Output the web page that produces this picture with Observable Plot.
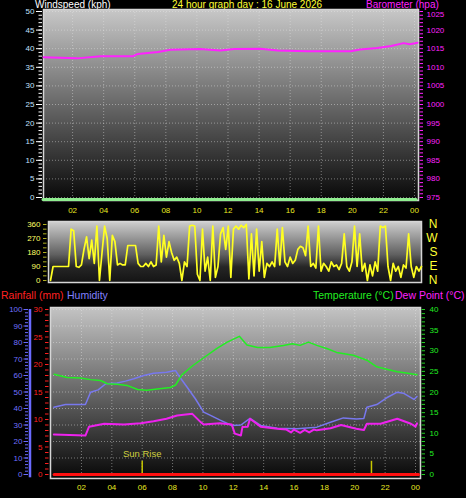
<!DOCTYPE html>
<html><head><meta charset="utf-8">
<script src="https://cdn.jsdelivr.net/npm/d3@7"></script>
<script src="https://cdn.jsdelivr.net/npm/@observablehq/plot@0.6"></script>
<style>
html,body{margin:0;padding:0;background:#000;width:466px;height:498px;overflow:hidden;font-family:"Liberation Sans",Arial,sans-serif;}
.panel{position:absolute;left:0;}
.lbl{position:absolute;font-size:10.5px;white-space:nowrap;line-height:1;}
.top{font-size:10px;line-height:9px;top:0;}
</style></head><body>
<div class="lbl top" style="left:35px;color:#ffffff">Windspeed (kph)</div>
<div class="lbl top" style="left:172px;color:#ffff33">24 hour graph day : 16 June 2026</div>
<div class="lbl top" style="left:366px;color:#ff22ff">Barometer (hpa)</div>
<div class="lbl" style="left:1px;top:290px;color:#ff2020">Rainfall (mm)</div>
<div class="lbl" style="left:67px;top:290px;color:#8080ff">Humidity</div>
<div class="lbl" style="left:313px;top:290px;color:#22ee22">Temperature (°C)</div>
<div class="lbl" style="left:395px;top:290px;color:#ff22ff">Dew Point (°C)</div>
<div id="p1" class="panel" style="top:0"></div>
<div id="p2" class="panel" style="top:215px"></div>
<div id="p3" class="panel" style="top:300px"></div>
<script>
// ---------- data ----------
const hourTicks = [2, 4, 6, 8, 10, 12, 14, 16, 18, 20, 22, 24];
const windTicks = [0, 5, 10, 15, 20, 25, 30, 35, 40, 45, 50];
const baroTicks = [975, 980, 985, 990, 995, 1000, 1005, 1010, 1015, 1020, 1025];
const dirTicks = [0, 90, 180, 270, 360];
const compassLetters = ["N", "E", "S", "W", "N"];
const humTicks = [0, 10, 20, 30, 40, 50, 60, 70, 80, 90, 100];
const rainTicks = [0, 5, 10, 15, 20, 25, 30];
const tempTicks = [0, 5, 10, 15, 20, 25, 30, 35, 40];

const windHours = [0.1, 24.1];
const windSpeeds = [0, 0];

const baroHours = [0.13, 2.3, 3.8, 5.9, 6.2, 7.5, 8.3, 10.2, 11.5, 12.4, 14.1, 15.2, 17.1, 19.9, 20.5, 21.6, 22.5, 23.3, 23.7, 24.2];
const baroValues = [1012.7, 1012.4, 1013.0, 1013.0, 1013.6, 1014.1, 1014.7, 1014.9, 1014.5, 1014.9, 1015.0, 1014.5, 1014.3, 1014.3, 1014.8, 1015.2, 1015.7, 1016.5, 1016.2, 1016.6];

const dirValues = [
  0, 90, 90, 90, 90, 90,
  90, 90, 330, 320, 90, 85,
  100, 200, 280, 140, 260, 110,
  350, 0, 180, 350, 270, 0,
  290, 250, 100, 110, 100, 100,
  225, 225, 225, 225, 110, 90,
  90, 110, 90, 120, 90, 100,
  350, 120, 290, 150, 250, 180,
  130, 150, 110, 0, 120, 90,
  350, 355, 350, 40, 0, 330,
  60, 150, 0, 350, 20, 90,
  300, 340, 200, 350, 20, 330,
  350, 330, 355, 340, 360, 10,
  300, 30, 330, 60, 250, 20,
  110, 90, 120, 90, 330, 100,
  340, 120, 90, 150, 110, 130,
  200, 220, 210, 160, 350, 90,
  110, 80, 350, 60, 110, 90,
  60, 120, 90, 100, 70, 110,
  300, 90, 60, 120, 350, 90,
  300, 60, 110, 0, 100, 30,
  120, 60, 350, 340, 350, 90,
  0, 110, 60, 90, 20, 100,
  80, 300, 90, 20, 90, 60,
  90
];

const tempHours = [0.2, 1.06, 1.93, 2.6, 3.25, 3.7, 4.35, 5.0, 5.7, 6.3, 7.0, 7.85, 8.2, 8.6, 9.3, 10.05, 10.9, 11.6, 12.4, 12.9, 13.6, 14.4, 15.3, 15.9, 16.4, 16.95, 17.5, 18.2, 18.8, 19.9, 20.8, 21.45, 22.1, 22.8, 23.4, 24.1];
const tempValues = [24.3, 23.5, 23.4, 23.0, 22.8, 22.0, 21.9, 21.6, 20.6, 20.4, 20.7, 21.1, 21.7, 24.1, 26.3, 28.3, 30.5, 32.1, 33.5, 31.4, 30.8, 30.8, 31.3, 31.7, 31.3, 32.1, 31.3, 30.5, 29.6, 28.9, 27.7, 26.1, 25.5, 24.9, 24.6, 24.2];

const humHours = [0.18, 0.95, 2.26, 2.6, 3.1, 3.6, 4.35, 4.9, 5.45, 6.1, 6.75, 7.6, 8.2, 8.4, 8.95, 9.5, 10.05, 10.5, 11.1, 11.9, 12.5, 13.1, 13.8, 14.9, 16.2, 17.5, 18.4, 19.25, 20.1, 20.6, 20.8, 21.45, 22.1, 22.8, 23.2, 23.9, 24.1];
const humValues = [40.8, 42.4, 42.4, 49.9, 51.3, 55, 55.4, 56.6, 58, 60, 61.4, 62, 63, 60, 53, 45.9, 37.8, 35.8, 33.1, 29.7, 30, 34, 29.7, 28, 27.7, 28.7, 31.7, 34.3, 33.7, 34, 40.8, 42.4, 46.5, 49.9, 49.3, 45.5, 47.3];

const dewHours = [0.18, 2.26, 2.5, 3.5, 4.8, 5.9, 6.75, 7.6, 8.3, 9.3, 9.85, 10.05, 11.1, 11.9, 12.1, 12.5, 12.6, 12.95, 13.1, 13.8, 14.9, 15.5, 15.8, 16.0, 16.4, 16.7, 17.0, 17.3, 17.5, 18.4, 19.1, 20.1, 20.6, 20.8, 21.7, 22.8, 23.7, 24.0, 24.1];
const dewValues = [9.7, 9.45, 11.6, 12.3, 12.1, 12.4, 12.9, 13.5, 14.3, 14.7, 12.7, 12.1, 12.4, 12.1, 9.9, 9.45, 11.5, 11.6, 13.5, 11.6, 11.1, 10.9, 10.2, 10.9, 10.1, 10.8, 10.2, 10.9, 10.7, 11.2, 12.0, 11.1, 10.8, 12.3, 12.3, 13.5, 12.3, 11.6, 12.4];

const rainHours = [0.2, 24.2];
const rainValues = [0, 0];

const sunHours = [6.0, 21.1];
const sunLabels = ["Sun Rise", ""];

// ---------- helpers ----------
const FONT = '"Liberation Sans", Arial, sans-serif';
const hourLabel = d => String(d % 24).padStart(2, "0");
const zip = (xs, ys) => xs.map((h, i) => ({h, v: ys[i]}));
const TICK_FS = 8;

function bg(id, stops) {
  return (index, scales, values, dim) => {
    const g = d3.create("svg:g");
    const lg = g.append("defs").append("linearGradient").attr("id", id)
      .attr("x1", 0).attr("y1", 0).attr("x2", 0).attr("y2", 1);
    for (const [o, c] of stops) lg.append("stop").attr("offset", o).attr("stop-color", c);
    g.append("rect").attr("x", dim.marginLeft).attr("y", dim.marginTop)
      .attr("width", dim.width - dim.marginLeft - dim.marginRight)
      .attr("height", dim.height - dim.marginTop - dim.marginBottom)
      .attr("fill", `url(#${id})`);
    return g.node();
  };
}
const grid = {stroke: "#e6e6e6", strokeOpacity: 0.45, strokeDasharray: "1,2"};

// ---------- panel 1 : windspeed / barometer ----------
{
  const xr = [41, 414];
  const px = p => (p - xr[0]) * 24 / (xr[1] - xr[0]);
  const baroTop = baroTicks[baroTicks.length - 1];
  const chart = Plot.plot({
    width: 466, height: 215,
    marginLeft: 43, marginRight: 48, marginTop: 9, marginBottom: 15,
    style: {background: "none", overflow: "visible", fontFamily: FONT},
    x: {domain: [0, 24], range: xr, axis: null},
    y: {domain: [0, 50], range: [197, 11], axis: null},
    marks: [
      bg("g1", [["0%", "#c8c8c8"], ["100%", "#080808"]]),
      Plot.ruleY(windTicks, {y: d => d, ...grid}),
      Plot.ruleX(hourTicks, {x: d => d, ...grid}),
      Plot.frame({stroke: "#d6d6d6", strokeWidth: 1.5}),
      Plot.ruleY(d3.range(0, 51, 1), {y: d => d, x1: px(38.5), x2: px(42), stroke: "#ffffff", strokeWidth: 1}),
      Plot.ruleY(windTicks, {y: d => d, x1: px(36), x2: px(42), stroke: "#ffffff", strokeWidth: 1}),
      Plot.ruleY(d3.range(0, 51, 1), {y: d => d, x1: px(419.5), x2: px(423), stroke: "#ff22ff", strokeWidth: 1}),
      Plot.text(windTicks, {y: d => d, text: d => String(d), frameAnchor: "left", dx: -9, textAnchor: "end", fill: "#c0e0ff", fontSize: TICK_FS}),
      Plot.text(baroTicks.filter(d => d !== baroTop), {y: d => d - 975, text: d => String(d), frameAnchor: "right", dx: 8, textAnchor: "start", fill: "#ff22ff", fontSize: TICK_FS}),
      Plot.text([baroTop], {y: d => d - 975, text: d => String(d), frameAnchor: "right", dx: 8, dy: 3, textAnchor: "start", fill: "#ff22ff", fontSize: TICK_FS}),
      Plot.text(hourTicks, {x: d => d, text: hourLabel, frameAnchor: "bottom", dy: 12, fill: "#e8e820", fontSize: TICK_FS}),
      Plot.line(zip(windHours, windSpeeds), {x: "h", y: "v", stroke: "#90ee90", strokeWidth: 3, dy: 2}),
      Plot.line(zip(baroHours, baroValues), {x: "h", y: d => d.v - 975, stroke: "#ff22ff", strokeWidth: 2})
    ]
  });
  document.getElementById("p1").appendChild(chart);
}

// ---------- panel 2 : wind direction ----------
{
  const xr = [50, 421];
  const px = p => (p - xr[0]) * 24 / (xr[1] - xr[0]);
  const dirData = dirValues.map((v, i) => ({h: i / 6, v}));
  const chart = Plot.plot({
    width: 466, height: 75,
    marginLeft: 48, marginRight: 45, marginTop: 6, marginBottom: 8,
    style: {background: "none", overflow: "visible", fontFamily: FONT},
    x: {domain: [0, 24], range: xr, axis: null},
    y: {domain: [0, 360], range: [65, 9], axis: null},
    marks: [
      bg("g2", [["0%", "#d0d0d0"], ["55%", "#606060"], ["75%", "#262626"], ["100%", "#141414"]]),
      Plot.frame({stroke: "#d6d6d6", strokeWidth: 1.5}),
      Plot.ruleY(d3.range(0, 361, 30), {y: d => d, x1: px(43), x2: px(46.5), stroke: "#b0b020", strokeWidth: 1}),
      Plot.text(dirTicks, {y: d => d, text: d => String(d), frameAnchor: "left", dx: -8, textAnchor: "end", fill: "#ffff66", fontSize: TICK_FS}),
      Plot.text(dirTicks, {y: d => d, text: (d, i) => compassLetters[i], frameAnchor: "right", dx: 16, fill: "#ffff33", fontSize: 12}),
      Plot.line(dirData, {x: "h", y: "v", stroke: "#ffff22", strokeWidth: 1.7})
    ]
  });
  document.getElementById("p2").appendChild(chart);
}

// ---------- panel 3 : rain / humidity / temperature / dew point ----------
{
  const xr = [50.6, 415];
  const px = p => (p - xr[0]) * 24 / (xr[1] - xr[0]);
  const T = t => t * 2.5;          // temperature -> humidity scale
  const R = r => r * 100 / 30;     // rainfall -> humidity scale
  const chart = Plot.plot({
    width: 466, height: 198,
    marginLeft: 50, marginRight: 46, marginTop: 7, marginBottom: 20,
    style: {background: "none", overflow: "visible", fontFamily: FONT},
    x: {domain: [0, 24], range: xr, axis: null},
    y: {domain: [0, 100], range: [174, 9], axis: null},
    marks: [
      bg("g3", [["0%", "#c4c4c4"], ["100%", "#080808"]]),
      Plot.ruleY(humTicks, {y: d => d, ...grid}),
      Plot.ruleX(hourTicks, {x: d => d, ...grid}),
      Plot.frame({stroke: "#d6d6d6", strokeWidth: 1.5}),
      // humidity axis
      Plot.ruleX([px(29.5)], {x: d => d, y1: -2, y2: 100, stroke: "#6a6aff", strokeWidth: 2.5}),
      Plot.ruleY(d3.range(0, 101, 2), {y: d => d, x1: px(25), x2: px(28), stroke: "#6a6aff", strokeWidth: 1}),
      Plot.ruleY(humTicks, {y: d => d, x1: px(23.5), x2: px(28), stroke: "#6a6aff", strokeWidth: 1}),
      Plot.text(humTicks, {y: d => d, text: d => String(d), frameAnchor: "left", dx: -28, textAnchor: "end", fill: "#7070ff", fontSize: TICK_FS}),
      // rainfall axis
      Plot.ruleY(d3.range(0, 31, 1), {y: d => R(d), x1: px(45), x2: px(48.5), stroke: "#ff2020", strokeWidth: 1}),
      Plot.text(rainTicks, {y: d => R(d), text: d => String(d), frameAnchor: "left", dx: -8, textAnchor: "end", fill: "#ff2020", fontSize: TICK_FS}),
      // temperature axis
      Plot.ruleY(d3.range(0, 41, 1), {y: d => T(d), x1: px(421.5), x2: px(425), stroke: "#22cc22", strokeWidth: 1}),
      Plot.text(tempTicks, {y: d => T(d), text: d => String(d), frameAnchor: "right", dx: 9, textAnchor: "start", fill: "#22ee22", fontSize: TICK_FS}),
      Plot.text(hourTicks, {x: d => d, text: hourLabel, frameAnchor: "bottom", dy: 11, fill: "#e8e820", fontSize: TICK_FS}),
      // sun events
      Plot.ruleX(sunHours, {x: d => d, y1: 0, y2: 8, stroke: "#c8c800", strokeWidth: 1.5}),
      Plot.text(sunHours, {x: d => d, y: 8, text: (d, i) => sunLabels[i], dy: -4, lineAnchor: "bottom", fill: "#d0d040", fontSize: 9.5}),
      // series
      Plot.line(zip(rainHours, rainValues), {x: "h", y: d => R(d.v), stroke: "#ff1010", strokeWidth: 3}),
      Plot.line(zip(humHours, humValues), {x: "h", y: "v", stroke: "#7878ee", strokeWidth: 1.5}),
      Plot.line(zip(dewHours, dewValues), {x: "h", y: d => T(d.v), stroke: "#ee22ee", strokeWidth: 2}),
      Plot.line(zip(tempHours, tempValues), {x: "h", y: d => T(d.v), stroke: "#22ee22", strokeWidth: 1.5})
    ]
  });
  document.getElementById("p3").appendChild(chart);
}
</script>
</body></html>
